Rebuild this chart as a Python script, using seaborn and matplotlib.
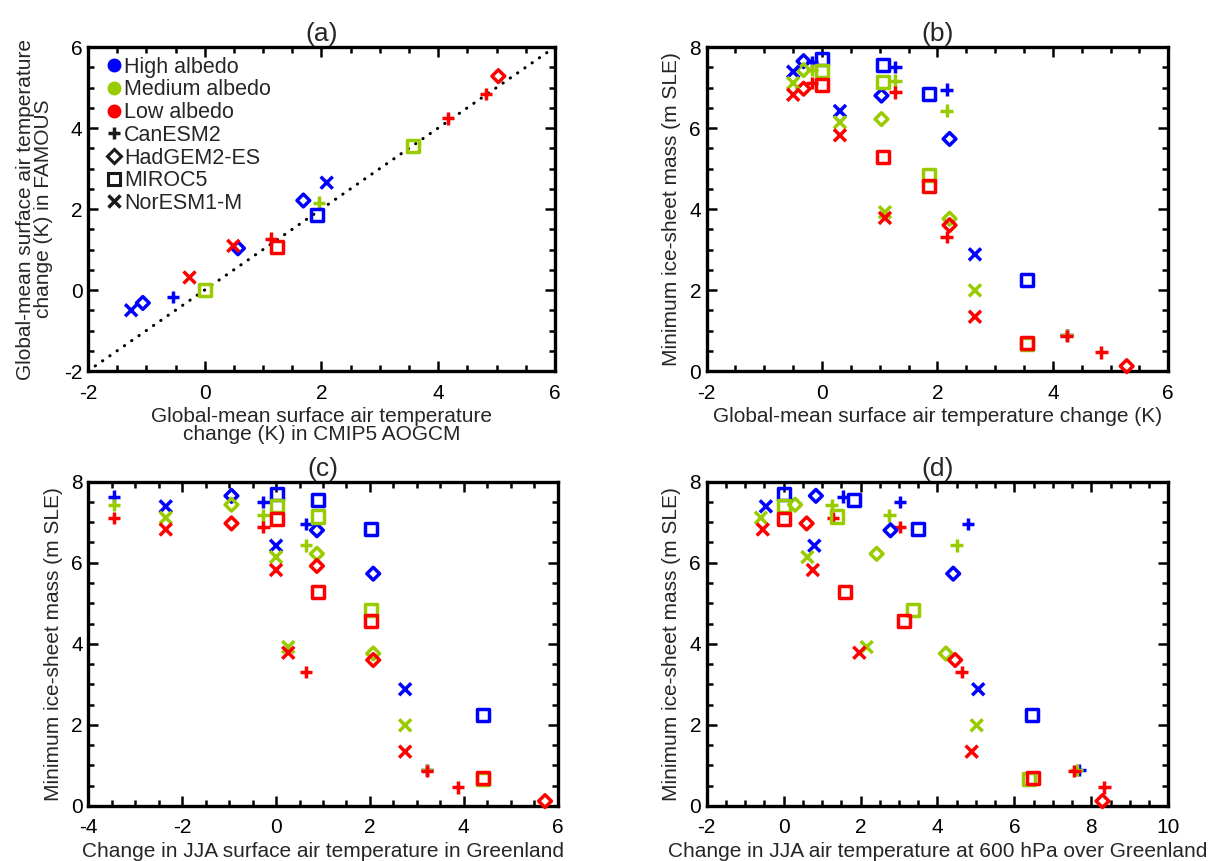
import numpy as np
import pandas as pd
import matplotlib
matplotlib.use('Agg')
import matplotlib.pyplot as plt
from matplotlib.lines import Line2D
from matplotlib.ticker import MultipleLocator
import seaborn as sns

nan = np.nan

# one entry per experiment (model x scenario)
models = ['CanESM2'] * 5 + ['HadGEM2-ES'] * 4 + ['MIROC5'] * 4 + ['NorESM1-M'] * 4

# panel (a): CMIP5 AOGCM vs FAMOUS global-mean warming (K)
aogcm_dT = [-0.54, 1.14, 1.96, 4.17, 4.82,
            -1.06, 0.57, 1.69, 5.03,
            0.00, 1.24, 1.93, 3.57,
            -1.26, -0.26, 0.49, 2.09]
famous_dT = [-0.17, 1.27, 2.16, 4.24, 4.84,
             -0.32, 1.03, 2.21, 5.28,
             0.00, 1.05, 1.86, 3.55,
             -0.50, 0.31, 1.09, 2.65]
# albedo colour that is visible on top in panel (a)
a_albedo = ['High', 'Low', 'Medium', 'Low', 'Low',
            'High', 'High', 'High', 'Low',
            'Medium', 'Low', 'High', 'Medium',
            'High', 'Low', 'Low', 'High']

# panel (b) x for the low-albedo runs (one run not shown in (b))
famous_dT_low = [-0.17, 1.27, 2.16, 4.24, 4.84,
                 -0.32, nan, 2.21, 5.28,
                 0.00, 1.05, 1.86, 3.55,
                 -0.50, 0.31, 1.09, 2.65]

# minimum ice-sheet mass (m SLE) for the three albedo settings
mass_high = [7.63, 7.50, 6.95, 0.89, nan,
             7.65, 6.80, 5.73, nan,
             7.70, 7.55, 6.84, 2.24,
             7.39, 6.42, nan, 2.88]
mass_med = [7.43, 7.17, 6.43, 0.89, nan,
            7.43, 6.22, 3.76, nan,
            7.41, 7.14, 4.84, 0.67,
            7.11, 6.14, 3.92, 1.99]
mass_low = [7.11, 6.88, 3.31, 0.86, 0.46,
            6.97, 5.92, 3.60, 0.12,
            7.07, 5.28, 4.56, 0.69,
            6.82, 5.82, 3.78, 1.34]

# panel (c): JJA surface air temperature change in Greenland (K)
jja_sfc_dT = [-3.45, -0.27, 0.64, 3.21, 3.88,
              -0.95, 0.87, 2.07, 5.73,
              0.01, 0.89, 2.02, 4.40,
              -2.35, 0.00, 0.26, 2.75]

# panel (d): JJA 600 hPa temperature change over Greenland (K)
jja600_high = [1.54, 3.03, 4.80, 7.69, nan,
               0.84, 2.78, 4.41, nan,
               0.02, 1.84, 3.49, 6.47,
               -0.46, 0.80, nan, 5.06]
jja600_med = [1.25, 2.75, 4.50, 7.62, nan,
              0.30, 2.42, 4.22, nan,
              0.02, 1.38, 3.37, 6.39,
              -0.59, 0.62, 2.16, 5.02]
jja600_low = [1.29, 3.03, 4.63, 7.56, 8.34,
              0.60, nan, 4.46, 8.29,
              0.02, 1.60, 3.14, 6.49,
              -0.54, 0.76, 1.97, 4.89]

albedos = ['High', 'Medium', 'Low']
pal = {'High': '#0000ff', 'Medium': '#99cc00', 'Low': '#ff0000'}
model_order = ['CanESM2', 'HadGEM2-ES', 'MIROC5', 'NorESM1-M']
markers = {'CanESM2': '+', 'HadGEM2-ES': 'D', 'MIROC5': 's', 'NorESM1-M': 'x'}
sizes = {'CanESM2': 80, 'HadGEM2-ES': 42, 'MIROC5': 75, 'NorESM1-M': 75}
open_markers = ['HadGEM2-ES', 'MIROC5']

# long table for panels (b)-(d)
frames = []
for alb, mass, fam, d600 in zip(albedos, [mass_high, mass_med, mass_low],
                                [famous_dT, famous_dT, famous_dT_low],
                                [jja600_high, jja600_med, jja600_low]):
    frames.append(pd.DataFrame({'model': models, 'albedo': alb, 'mass': mass,
                                'famous': fam, 'jja_sfc': jja_sfc_dT,
                                'jja600': d600}))
df = pd.concat(frames, ignore_index=True)

df_a = pd.DataFrame({'model': models, 'albedo': a_albedo,
                     'aogcm': aogcm_dT, 'famous': famous_dT})

sns.set_theme(style='ticks')
plt.rcParams['font.family'] = ['Liberation Sans', 'DejaVu Sans']
plt.rcParams['axes.unicode_minus'] = False

FS = 15

fig = plt.figure(figsize=(12.3, 8.61), dpi=100)
ax_a = fig.add_axes([0.0715, 0.5691, 0.3797, 0.3763])
ax_b = fig.add_axes([0.5745, 0.5691, 0.3753, 0.3763])
ax_c = fig.add_axes([0.0718, 0.0639, 0.3816, 0.3767])
ax_d = fig.add_axes([0.5745, 0.0639, 0.3753, 0.3767])


def draw(ax, data, xcol, ycol):
    for m in model_order:
        sub = data[data['model'] == m].dropna(subset=[xcol, ycol])
        if sub.empty:
            continue
        sns.scatterplot(data=sub, x=xcol, y=ycol, hue='albedo', hue_order=albedos,
                        palette=pal, marker=markers[m], s=sizes[m], linewidth=2.5,
                        legend=False, ax=ax, zorder=3, clip_on=False)
        if m in open_markers:
            coll = ax.collections[-1]
            fc = coll.get_facecolors().copy()
            coll.set_edgecolors(fc)
            coll.set_facecolors('none')


def style(ax, xlim, ylim, title):
    ax.set_xlim(*xlim)
    ax.set_ylim(*ylim)
    ax.xaxis.set_major_locator(MultipleLocator(2))
    ax.yaxis.set_major_locator(MultipleLocator(2))
    ax.xaxis.set_minor_locator(MultipleLocator(0.5))
    ax.yaxis.set_minor_locator(MultipleLocator(0.5))
    ax.tick_params(which='both', direction='in', top=True, right=True,
                   width=1.8, colors='black', labelsize=FS)
    ax.tick_params(which='major', length=7)
    ax.tick_params(which='minor', length=4)
    ax.tick_params(axis='x', pad=9)
    ax.tick_params(axis='y', pad=4)
    for sp in ax.spines.values():
        sp.set_linewidth(2.4)
        sp.set_color('black')
    ax.set_title(title, fontsize=19, pad=4)


# (a)
ax_a.axline((0, 0), slope=1, color='black', lw=2.2, dashes=(0.1, 2.8),
             dash_capstyle='round', zorder=2)
draw(ax_a, df_a, 'aogcm', 'famous')
style(ax_a, (-2, 6), (-2, 6), '(a)')
ax_a.set_xlabel('Global-mean surface air temperature\nchange (K) in CMIP5 AOGCM',
                fontsize=FS, linespacing=0.95, labelpad=3)
ax_a.set_ylabel('Global-mean surface air temperature\nchange (K) in FAMOUS',
                fontsize=FS, linespacing=0.95, labelpad=8)

handles = [Line2D([], [], ls='none', marker='o', ms=9, color=pal[a], mec=pal[a])
           for a in albedos]
handles += [Line2D([], [], ls='none', marker='+', ms=9, mew=2.5, color='k'),
            Line2D([], [], ls='none', marker='D', ms=7, mew=2.2, mfc='none', mec='k'),
            Line2D([], [], ls='none', marker='s', ms=9, mew=2.2, mfc='none', mec='k'),
            Line2D([], [], ls='none', marker='x', ms=9, mew=2.5, color='k')]
labels = ['High albedo', 'Medium albedo', 'Low albedo',
          'CanESM2', 'HadGEM2-ES', 'MIROC5', 'NorESM1-M']
ax_a.legend(handles, labels, loc='upper left', bbox_to_anchor=(0.022, 1.0),
            frameon=False, fontsize=15.5,
            handlelength=0.6, handletextpad=0.15, labelspacing=0.08,
            borderaxespad=0.25, borderpad=0.2)

# (b)
draw(ax_b, df, 'famous', 'mass')
style(ax_b, (-2, 6), (0, 8), '(b)')
ax_b.set_xlabel('Global-mean surface air temperature change (K)', fontsize=FS, labelpad=3)
ax_b.set_ylabel('Minimum ice-sheet mass (m SLE)', fontsize=FS, labelpad=6)

# (c)
draw(ax_c, df, 'jja_sfc', 'mass')
style(ax_c, (-4, 6), (0, 8), '(c)')
ax_c.set_xlabel('Change in JJA surface air temperature in Greenland', fontsize=FS, labelpad=3)
ax_c.set_ylabel('Minimum ice-sheet mass (m SLE)', fontsize=FS, labelpad=6)

# (d)
draw(ax_d, df, 'jja600', 'mass')
style(ax_d, (-2, 10), (0, 8), '(d)')
ax_d.set_xlabel('Change in JJA air temperature at 600 hPa over Greenland', fontsize=FS, labelpad=3)
ax_d.set_ylabel('Minimum ice-sheet mass (m SLE)', fontsize=FS, labelpad=6)

fig.savefig('out.png', dpi=100)
